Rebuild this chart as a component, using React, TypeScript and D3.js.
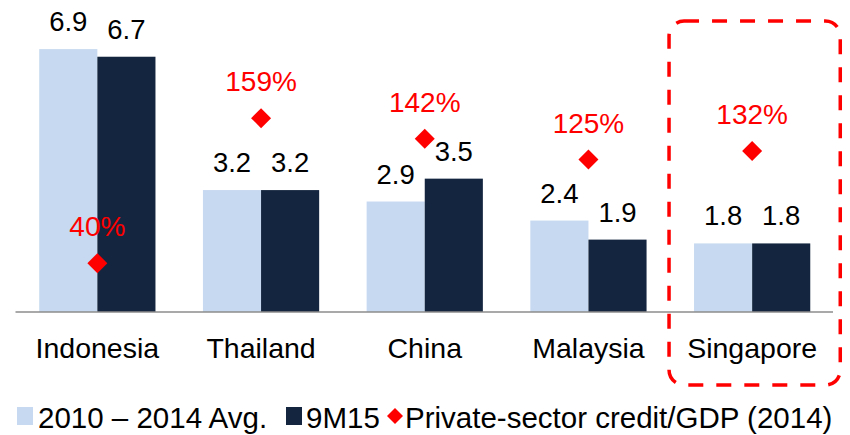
import React from "react";
import * as d3 from "d3";

const categories = ["Indonesia", "Thailand", "China", "Malaysia", "Singapore"];
const avg2010to2014 = [6.9, 3.2, 2.9, 2.4, 1.8];
const nineM15 = [6.7, 3.2, 3.5, 1.9, 1.8];
const creditToGdp = [40, 159, 142, 125, 132];
const seriesNames = ["2010 \u2013 2014 Avg.", "9M15", "Private-sector credit/GDP (2014)"];
const highlighted = "Singapore";

const W = 850;
const H = 435;
const LIGHT = "#C6D9F0";
const DARK = "#14263F";
const RED = "#FF0000";
const FONT = "'Liberation Sans', Arial, Helvetica, sans-serif";

export default function App() {
  const baseline = 312;
  const x = d3.scaleBand<string>().domain(categories).range([15.5, 834]).paddingInner(0.29).paddingOuter(0.145);
  const sub = d3.scaleBand<string>().domain(["a", "b"]).range([0, x.bandwidth()]);
  const y = d3.scaleLinear().domain([0, 8]).range([baseline, baseline - 8 * 38.1]);
  const y2 = d3.scaleLinear().domain([0, 250]).range([baseline, baseline - 8 * 38.1]);

  const hx = x(highlighted)!;
  const diamond = (cx: number, cy: number, r: number) =>
    `M${cx},${cy - r}L${cx + r},${cy}L${cx},${cy + r}L${cx - r},${cy}Z`;

  return (
    <svg width={W} height={H} style={{ position: "absolute", left: 0, top: 0 }} fontFamily={FONT}>
      <rect x={0} y={0} width={W} height={H} fill="#fff" />
      {categories.map((c, i) => {
        const gx = x(c)!;
        return (
          <g key={c}>
            <rect x={gx + sub("a")!} y={y(avg2010to2014[i])} width={sub.bandwidth()} height={baseline - y(avg2010to2014[i])} fill={LIGHT} />
            <rect x={gx + sub("b")!} y={y(nineM15[i])} width={sub.bandwidth()} height={baseline - y(nineM15[i])} fill={DARK} />
            <text x={gx + sub("a")! + sub.bandwidth() / 2} y={y(avg2010to2014[i]) - 18} textAnchor="middle" fontSize={27.5} fill="#000">
              {avg2010to2014[i].toFixed(1)}
            </text>
            <text x={gx + sub("b")! + sub.bandwidth() / 2} y={y(nineM15[i]) - 18} textAnchor="middle" fontSize={27.5} fill="#000">
              {nineM15[i].toFixed(1)}
            </text>
            <text x={gx + x.bandwidth() / 2} y={358} textAnchor="middle" fontSize={28.5} fill="#000">
              {c}
            </text>
          </g>
        );
      })}
      <line x1={15.5} x2={833} y1={baseline} y2={baseline} stroke="#8c8c8c" strokeWidth={1.5} />
      {categories.map((c, i) => {
        const cx = x(c)! + x.bandwidth() / 2;
        const cy = y2(creditToGdp[i]);
        return (
          <g key={"d" + c}>
            <path d={diamond(cx, cy, 10)} fill={RED} />
            <text x={cx} y={cy - 27} textAnchor="middle" fontSize={28} fill={RED}>
              {creditToGdp[i]}%
            </text>
          </g>
        );
      })}
      <rect
        x={hx - 25}
        y={21}
        width={x.bandwidth() + 55}
        height={364}
        rx={15}
        ry={15}
        fill="none"
        stroke={RED}
        strokeWidth={3.5}
        strokeDasharray="15 13"
      />
      <g fontSize={29.5} fill="#000">
        <rect x={17} y={407} width={16} height={18} fill={LIGHT} />
        <text x={38} y={428}>{seriesNames[0]}</text>
        <rect x={286} y={407} width={16} height={18} fill={DARK} />
        <text x={306} y={428}>{seriesNames[1]}</text>
        <path d={diamond(395, 416, 8)} fill={RED} />
        <text x={405} y={428}>{seriesNames[2]}</text>
      </g>
    </svg>
  );
}
